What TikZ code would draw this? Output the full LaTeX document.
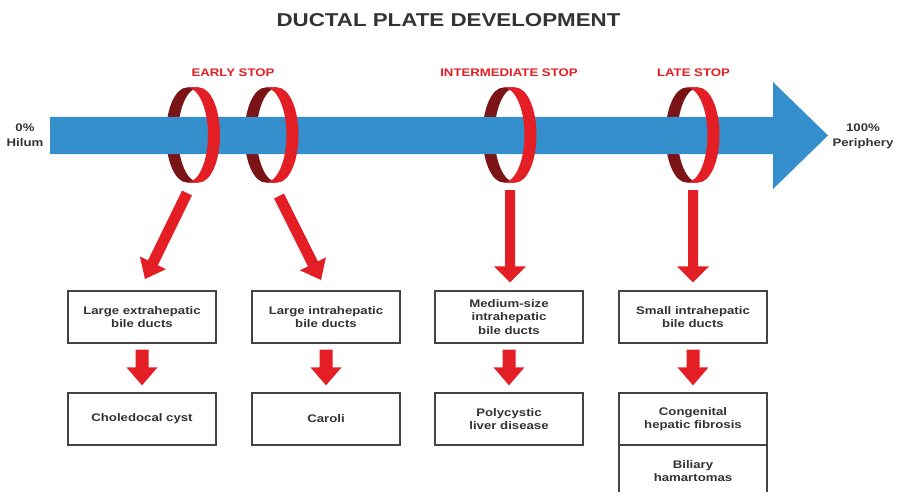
\documentclass[tikz,border=0pt]{standalone}
\usepackage{fontspec}
\setmainfont[FakeStretch=1.2]{Liberation Sans}
\usetikzlibrary{calc}

\definecolor{flowblue}{RGB}{52,143,204}
\definecolor{stopred}{RGB}{227,30,36}
\definecolor{ringdark}{RGB}{122,20,22}
\definecolor{inkgray}{RGB}{51,51,51}
\definecolor{boxgray}{RGB}{68,68,68}

\tikzset{
  stage/.style={draw=boxgray, line width=1.3pt, fill=white,
    minimum width=148pt, minimum height=52pt, inner sep=0pt, align=center,
    font=\bfseries\fontsize{11}{13.5}\selectfont, text=inkgray},
  stoplabel/.style={font=\bfseries\fontsize{11}{13}\selectfont, text=stopred},
  endlabel/.style={font=\bfseries\fontsize{11}{15}\selectfont, text=inkgray, align=center},
  titlelabel/.style={font=\bfseries\fontsize{18.6}{20}\selectfont, text=inkgray},
}

% ring around the flow arrow: back half (inner face) and front half (outer face)
\newcommand\ringback[1]{%
  \fill[ringdark] ([shift={(-6,-47.5)}]#1)
    arc[start angle=90, end angle=270, x radius=21pt, y radius=47.5pt]
    -- ++(12pt,0pt)
    arc[start angle=270, end angle=90, x radius=21pt, y radius=47.5pt] -- cycle;}
\newcommand\ringfront[1]{%
  \fill[stopred] ([shift={(6,-47.5)}]#1)
    arc[start angle=90, end angle=-90, x radius=21pt, y radius=47.5pt]
    -- ++(-12pt,0pt)
    arc[start angle=-90, end angle=90, x radius=21pt, y radius=47.5pt] -- cycle;}

% filled block arrow between two named points:
% #1 from, #2 to, #3 shaft half width, #4 head half width, #5 head length (pt)
\newdimen\bax \newdimen\bay
\newcommand\blockarrow[5]{%
  \pgfmathanglebetweenpoints{\pgfpointanchor{#1}{center}}{\pgfpointanchor{#2}{center}}%
  \edef\barAngle{\pgfmathresult}%
  \pgfextractx{\bax}{\pgfpointdiff{\pgfpointanchor{#1}{center}}{\pgfpointanchor{#2}{center}}}%
  \pgfextracty{\bay}{\pgfpointdiff{\pgfpointanchor{#1}{center}}{\pgfpointanchor{#2}{center}}}%
  \pgfmathveclen{\the\bax}{\the\bay}%
  \edef\barLen{\pgfmathresult}%
  \pgfmathsetmacro\barNeck{\barLen-#5}%
  \begin{scope}[shift={(#1)}, rotate=\barAngle]
    \fill[stopred] (0pt,-#3pt) -- (\barNeck pt,-#3pt) -- (\barNeck pt,-#4pt)
      -- (\barLen pt,0pt) -- (\barNeck pt,#4pt) -- (\barNeck pt,#3pt)
      -- (0pt,#3pt) -- cycle;
  \end{scope}}

\begin{document}
\begin{tikzpicture}[x=1pt, y=-1pt]
  \useasboundingbox (0,0) rectangle (899,492);
  \clip (0,0) rectangle (899,492);

  % title and stage labels
  \node[titlelabel] (title) at (448.5,20) {DUCTAL PLATE DEVELOPMENT};
  \node[stoplabel] (early) at (233,72.5) {EARLY STOP};
  \node[stoplabel] (inter) at (509,72.5) {INTERMEDIATE STOP};
  \node[stoplabel] (late)  at (693.5,72.5) {LATE STOP};

  \node[endlabel] (hilum) at (25,135) {0\%\\Hilum};
  \node[endlabel] (periphery) at (863,136) {100\%\\Periphery};

  % ring centres
  \coordinate (r1) at (193,135);
  \coordinate (r2) at (271.5,135);
  \coordinate (r3) at (509.5,135);
  \coordinate (r4) at (692.5,135);

  % back halves of the rings sit behind the flow arrow
  \ringback{r1} \ringback{r2} \ringback{r3} \ringback{r4}

  % flow arrow from hilum to periphery
  \fill[flowblue] (50,117) -- (773,117) -- (773,82) -- (828,135.5)
    -- (773,189) -- (773,154) -- (50,154) -- cycle;

  \ringfront{r1} \ringfront{r2} \ringfront{r3} \ringfront{r4}

  % affected duct levels
  \node[stage] (b1) at (142,317) {Large extrahepatic\\bile ducts};
  \node[stage] (b2) at (326,317) {Large intrahepatic\\bile ducts};
  \node[stage] (b3) at (509,317) {Medium-size\\intrahepatic\\bile ducts};
  \node[stage] (b4) at (693,317) {Small intrahepatic\\bile ducts};

  % resulting diseases
  \node[stage] (c1) at (142,419) {Choledocal cyst};
  \node[stage] (c2) at (326,419) {Caroli};
  \node[stage] (c3) at (509,419) {Polycystic\\liver disease};
  \node[stage] (c4) at (693,419) {Congenital\\hepatic fibrosis};
  \node[stage] (d4) at (693,471) {Biliary\\hamartomas};

  % arrows from the rings down to the duct levels
  \coordinate (s1) at (187,193);   \coordinate (t1) at (145,279);
  \coordinate (s2) at (279,196);   \coordinate (t2) at (321,280);
  \coordinate (s3) at (510,190);   \coordinate (t3) at ($(b3.north)+(1,-8)$);
  \coordinate (s4) at (693,190);   \coordinate (t4) at ($(b4.north)+(0,-8)$);
  \blockarrow{s1}{t1}{5.5}{14.5}{18}
  \blockarrow{s2}{t2}{5.5}{14.5}{18}
  \blockarrow{s3}{t3}{5}{16}{16}
  \blockarrow{s4}{t4}{5}{16}{16}

  % arrows from duct levels to diseases
  \foreach \i in {1,2,3,4}{
    \coordinate (u\i) at ($(b\i.south)+(0,6)$);
    \coordinate (v\i) at ($(c\i.north)+(0,-7)$);
    \blockarrow{u\i}{v\i}{6.5}{15.5}{18}
  }
\end{tikzpicture}
\end{document}
